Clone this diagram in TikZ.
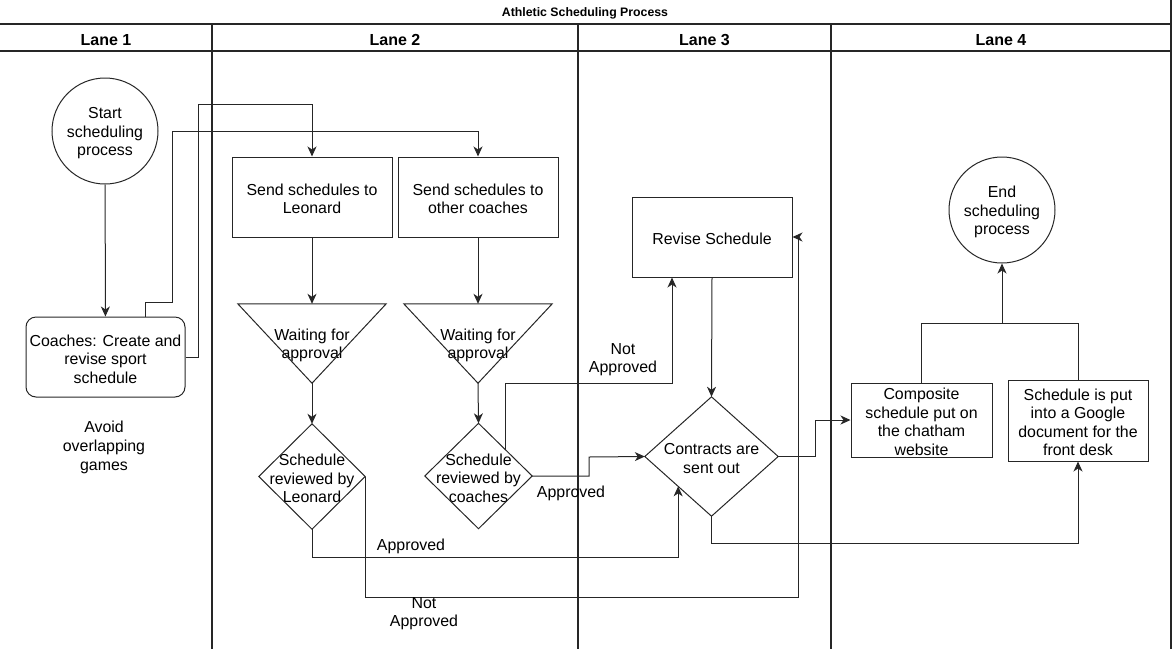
\documentclass[tikz,border=0pt]{standalone}
\usepackage{fontspec}
\setmainfont{Liberation Sans}
\usetikzlibrary{arrows.meta,calc}
\newcommand{\tstrut}{\rule{0pt}{15.6pt}}
\begin{document}
\begin{tikzpicture}[x=1pt,y=-1pt,
  txt/.style={font=\fontsize{15.9}{18.5}\selectfont, align=center, inner sep=0pt},
  shapebox/.style={txt, draw=black!85, line width=1pt},
  arr/.style={draw=black!85, line width=1pt, -{Stealth[length=10pt,width=9pt,inset=3pt]}},
  ln/.style={draw=black!85, line width=1pt},
  lane/.style={draw=black!85, line width=2pt},
  lanetitle/.style={font=\fontsize{16}{18}\selectfont\bfseries, inner sep=0pt}]
\useasboundingbox (0,0) rectangle (1173,649);

% pool and lanes
\draw[lane] (0,24) -- (1171,24);
\draw[lane] (0,50.5) -- (1171,50.5);
\draw[lane] (1171,0) -- (1171,649);
\draw[lane] (212,24) -- (212,649);
\draw[lane] (578,24) -- (578,649);
\draw[lane] (831,24) -- (831,649);
\node[font=\fontsize{12.3}{14}\selectfont\bfseries, inner sep=0pt] (title) at (585,13) {Athletic Scheduling Process};
\node[lanetitle] (l1) at (106,40) {Lane 1};
\node[lanetitle] (l2) at (395,40) {Lane 2};
\node[lanetitle] (l3) at (704.5,40) {Lane 3};
\node[lanetitle] (l4) at (1001,40) {Lane 4};

% nodes
\node[shapebox, circle, minimum size=106pt] (start) at (105,131) {\tstrut Start\\scheduling\\process};
\node[shapebox, rounded corners=10pt, minimum width=159pt, minimum height=80pt] (coaches) at (105.5,357) {\tstrut Coaches: Create and\\revise sport\\schedule};
\node[txt, font=\fontsize{15.9}{19}\selectfont] (avoid) at (104,445) {\tstrut Avoid\\overlapping\\games};

\node[shapebox, minimum width=160pt, minimum height=80pt] (sendL) at (312,197) {\tstrut Send schedules to\\Leonard};
\node[shapebox, minimum width=160pt, minimum height=80pt] (sendC) at (478,197) {\tstrut Send schedules to\\other coaches};

\node[txt, minimum width=148pt, minimum height=79pt] (waitL) at (312,343.5) {\tstrut Waiting for\\approval};
\draw[ln] (waitL.north west) -- (waitL.north east) -- (waitL.south) -- cycle;
\node[txt, minimum width=148pt, minimum height=79pt] (waitC) at (478,343.5) {\tstrut Waiting for\\approval};
\draw[ln] (waitC.north west) -- (waitC.north east) -- (waitC.south) -- cycle;

\node[txt, minimum width=106pt, minimum height=105pt] (revL) at (312,476.5) {\tstrut Schedule\\reviewed by\\Leonard};
\draw[ln] (revL.north) -- (revL.east) -- (revL.south) -- (revL.west) -- cycle;
\node[txt, minimum width=107pt, minimum height=105pt] (revC) at (478.5,476) {\tstrut Schedule\\reviewed by\\coaches};
\draw[ln] (revC.north) -- (revC.east) -- (revC.south) -- (revC.west) -- cycle;

\node[shapebox, minimum width=160pt, minimum height=80pt] (revise) at (712,237) {\tstrut Revise Schedule};
\node[txt, minimum width=133pt, minimum height=119pt] (contracts) at (711.5,456.5) {\tstrut Contracts are\\sent out};
\draw[ln] (contracts.north) -- (contracts.east) -- (contracts.south) -- (contracts.west) -- cycle;

\node[shapebox, circle, minimum size=106pt] (end) at (1002,210) {\tstrut End\\scheduling\\process};
\node[shapebox, minimum width=141pt, minimum height=74pt] (composite) at (921.5,420) {\tstrut Composite\\schedule put on\\the chatham\\website};
\node[shapebox, minimum width=140pt, minimum height=81pt] (google) at (1078,420.5) {\tstrut Schedule is put\\into a Google\\document for the\\front desk};

% helper points on diamond edges
\coordinate (cLL) at ($(contracts.west)!0.5!(contracts.south)$);
\coordinate (cUR) at ($(revC.north)!0.5!(revC.east)$);

% connectors
\draw[arr] (start) -- (coaches);
\draw[arr] ([xshift=39.5pt]coaches.north) -- ++(0,-14) -| (172,131) -| (sendC.north);
\draw[arr] (coaches.east) -| (198,104) -| (sendL.north);
\draw[arr] (sendL.south) -- (waitL.north);
\draw[arr] (sendC.south) -- (waitC.north);
\draw[arr] (waitL.south) -- (revL.north);
\draw[arr] (waitC.south) -- (revC.north);
\draw[arr] (revL.south) -- (revL.south |- 0,557) -| (cLL);
\draw[arr] (revL.east) -- (revL.east |- 0,597) -| (798,237) -- (revise.east);
\draw[arr] (cUR) -- (cUR |- 0,383) -| ([xshift=-40pt]revise.south);
\draw[arr] (revC.east) -| (589,457) -- (contracts.west);
\draw[arr] (revise.south) -- (contracts.north);
\draw[arr] (contracts.east) -| (815,420) -- (composite.west);
\draw[arr] (contracts.south) -- (contracts.south |- 0,543.5) -| (google.south);
\draw[arr] (composite.north) |- (1002,323) -- (end.south);
\draw[ln] (google.north) |- (1002,323);

% labels
\node[txt] (lab1) at (411,544) {\tstrut Approved};
\node[txt] (lab2) at (424,611.5) {\tstrut Not\\Approved};
\node[txt] (lab3) at (623,357.5) {\tstrut Not\\Approved};
\node[txt] (lab4) at (571,491) {\tstrut Approved};
\end{tikzpicture}
\end{document}
